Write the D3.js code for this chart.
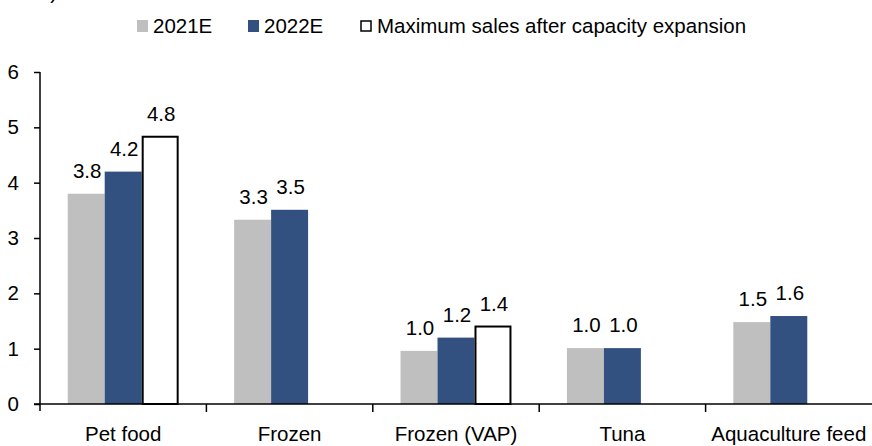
<!DOCTYPE html>
<html>
<head>
<meta charset="utf-8">
<script src="https://cdn.jsdelivr.net/npm/d3@7"></script>
<style>
  body { margin: 0; background: #fff; }
  svg { display: block; font-family: "Liberation Sans", Arial, sans-serif; }
</style>
</head>
<body>
<svg id="container" width="872" height="446"></svg>
<script>
// chart data
var categories = ["Pet food", "Frozen", "Frozen (VAP)", "Tuna", "Aquaculture feed"];
var seriesNames = ["2021E", "2022E", "Maximum sales after capacity expansion"];
var values2021 = [3.8, 3.33, 0.96, 1.01, 1.48];
var values2022 = [4.2, 3.51, 1.2, 1.01, 1.59];
var valuesMax = [4.83, null, 1.4, null, null];
var yTicks = [0, 1, 2, 3, 4, 5, 6];

var seriesFill = ["#bfbfbf", "#335180", "#ffffff"];
var seriesStroke = ["none", "none", "#000"];

function drawChart()
{
    const svg = d3.select('#container');
    const margin = { left: 40, right: 0, top: 72, bottom: 42 };
    const width = 872, height = 446;
    const y0 = height - margin.bottom;

    var x = d3.scaleBand().domain(categories).range([margin.left, width - margin.right]).padding(0);
    var x1 = d3.scaleBand().domain(seriesNames).range([0, x.bandwidth()]).paddingInner(0).paddingOuter(0.75);
    var y = d3.scaleLinear().domain([0, 6]).range([y0, margin.top]);

    var allSeries = [values2021, values2022, valuesMax];
    var rows = [];
    allSeries.forEach((vals, s) => {
        vals.forEach((v, i) => {
            if (v !== null) rows.push({ cat: categories[i], series: seriesNames[s], s: s, value: v });
        });
    });

    // bars
    svg.append("g").selectAll("rect").data(rows).join("rect")
        .attr("x", d => x(d.cat) + x1(d.series) + (d.s == 2 ? 1 : 0))
        .attr("y", d => y(d.value))
        .attr("width", d => x1.bandwidth() - (d.s == 2 ? 2 : 0))
        .attr("height", d => y0 - y(d.value))
        .attr("fill", d => seriesFill[d.s])
        .attr("stroke", d => seriesStroke[d.s])
        .attr("stroke-width", 2);

    // value labels
    svg.append("g").selectAll("text").data(rows).join("text")
        .attr("x", d => x(d.cat) + x1(d.series) + x1.bandwidth() / 2 + 1)
        .attr("y", d => y(d.value) - 16)
        .attr("text-anchor", "middle")
        .attr("font-size", 20.5)
        .attr("fill", "#000")
        .text(d => d3.format(".1f")(d.value));

    // y axis
    var yAxis = svg.append("g").attr("transform", "translate(" + margin.left + ",0)")
        .call(d3.axisLeft(y).tickValues(yTicks).tickFormat(d3.format("d")).tickSize(6).tickPadding(15));
    yAxis.select(".domain").attr("stroke", "#000").attr("stroke-width", 1.5)
        .attr("d", "M0," + (margin.top) + "V" + (y0 + 7));
    yAxis.selectAll(".tick line").attr("stroke", "#000").attr("stroke-width", 1.5);
    yAxis.selectAll(".tick text").attr("font-size", 20.5).attr("font-family", null).attr("fill", "#000");

    // x axis line + boundary ticks
    svg.append("line").attr("x1", margin.left - 6).attr("x2", width)
        .attr("y1", y0).attr("y2", y0).attr("stroke", "#000").attr("stroke-width", 1.5);
    svg.append("g").selectAll("line").data(categories.slice(1)).join("line")
        .attr("x1", d => x(d)).attr("x2", d => x(d))
        .attr("y1", y0).attr("y2", y0 + 8)
        .attr("stroke", "#000").attr("stroke-width", 1.5);
    svg.append("g").selectAll("text").data(categories).join("text")
        .attr("x", d => x(d) + x.bandwidth() / 2)
        .attr("y", 441)
        .attr("text-anchor", "middle")
        .attr("font-size", 20.5)
        .text(d => d);

    // unit label, only its tail shows at the top edge as in the source
    svg.append("text").attr("x", 57).attr("y", -1).attr("text-anchor", "end")
        .attr("font-size", 20.5).text("(THB bn)");

    // legend
    var legendX = [137, 248, 360];
    var legend = svg.append("g").selectAll("g").data(seriesNames).join("g")
        .attr("transform", (d, i) => "translate(" + legendX[i] + ",0)");
    legend.append("rect")
        .attr("x", (d, i) => i == 2 ? 1 : 0).attr("y", (d, i) => i == 2 ? 21 : 20)
        .attr("width", (d, i) => i == 2 ? 10 : 11).attr("height", (d, i) => i == 2 ? 10 : 12)
        .attr("fill", (d, i) => seriesFill[i])
        .attr("stroke", (d, i) => seriesStroke[i]).attr("stroke-width", 1.5);
    legend.append("text")
        .attr("x", (d, i) => i == 2 ? 17 : 16).attr("y", 33)
        .attr("font-size", 20.5)
        .text(d => d);
}

drawChart();
</script>
</body>
</html>
